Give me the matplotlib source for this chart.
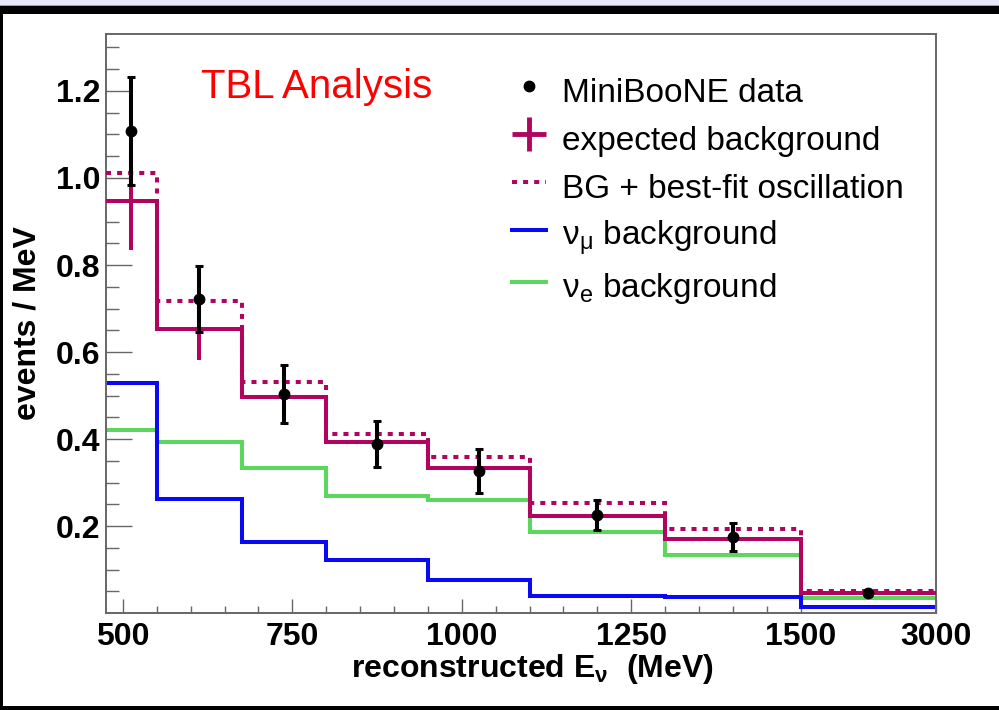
import numpy as np
import matplotlib
matplotlib.use("Agg")
import matplotlib.pyplot as plt
from matplotlib.lines import Line2D
from matplotlib.patches import Rectangle
from matplotlib.ticker import FixedLocator, FixedFormatter

plt.rcParams["font.family"] = ["Liberation Sans", "DejaVu Sans"]
plt.rcParams["mathtext.default"] = "regular"

# bin edges in MeV (last bin is squeezed on the axis)
edges = np.array([475, 550, 675, 800, 950, 1100, 1300, 1500, 3000])
numu_bg = [0.528, 0.261, 0.164, 0.123, 0.077, 0.040, 0.037, 0.013]
nue_bg = [0.421, 0.394, 0.334, 0.270, 0.259, 0.186, 0.134, 0.035]
expected_bg = [0.947, 0.654, 0.496, 0.393, 0.334, 0.224, 0.169, 0.047]
expected_err = [0.113, 0.072, 0.064, 0.045, 0.040, 0.028, 0.025, 0.006]
bg_plus_osc = [1.011, 0.718, 0.531, 0.412, 0.359, 0.253, 0.193, 0.051]
data_y = [1.108, 0.722, 0.503, 0.388, 0.327, 0.225, 0.175, 0.045]
data_err = [0.124, 0.076, 0.066, 0.053, 0.050, 0.035, 0.032, 0.006]

xticks = [500, 750, 1000, 1250, 1500, 3000]
xticklabels = ["500", "750", "1000", "1250", "1500", "3000"]
yticks = [0.2, 0.4, 0.6, 0.8, 1.0, 1.2]

centers = 0.5 * (edges[:-1] + edges[1:])

MAG = "#b0045f"
BLUE = "#0a0af2"
GREEN = "#5cd65c"
LW = 2.9
DOTS = (0, (1.25, 1.5))


def fwd(x):
    x = np.asarray(x, dtype=float)
    return np.where(x <= 1500, x, 1500 + (x - 1500) * 200.0 / 1500.0)


def inv(x):
    x = np.asarray(x, dtype=float)
    return np.where(x <= 1500, x, 1500 + (x - 1500) * 1500.0 / 200.0)


fig = plt.figure(figsize=(9.99, 7.10), dpi=100)
ax = fig.add_axes([0.1061, 0.1366, 0.831, 0.8155])
ax.set_xscale("function", functions=(fwd, inv))
ax.set_xlim(475, 3000)
ax.set_ylim(0, 1.331)

ax.stairs(nue_bg, edges, baseline=None, color=GREEN, lw=LW, zorder=2)
ax.stairs(numu_bg, edges, baseline=None, color=BLUE, lw=LW, zorder=2)
ax.stairs(expected_bg, edges, baseline=None, color=MAG, lw=LW, zorder=3)
ax.stairs(bg_plus_osc, edges, baseline=None, color=MAG, lw=LW,
          linestyle=DOTS, zorder=3)
ax.errorbar(centers, expected_bg, yerr=expected_err, fmt="none",
            ecolor=MAG, elinewidth=LW, zorder=4)
ax.errorbar(centers, data_y, yerr=data_err, fmt="o", color="black",
            ms=7.5, elinewidth=LW, capsize=3, capthick=2.2, zorder=5)

# axes styling
for sp in ax.spines.values():
    sp.set_color("#666666")
    sp.set_linewidth(1.4)
ax.xaxis.set_major_locator(FixedLocator(xticks))
ax.xaxis.set_major_formatter(FixedFormatter(xticklabels))
ax.xaxis.set_minor_locator(FixedLocator([v for v in range(550, 1500, 50)
                                         if v % 250 != 0]))
ax.yaxis.set_major_locator(FixedLocator(yticks))
ax.yaxis.set_minor_locator(FixedLocator(np.arange(0.05, 1.33, 0.05)))
ax.tick_params(axis="both", which="both", direction="in", color="#666666",
               width=1.0, top=False, right=False)
ax.tick_params(axis="y", which="major", length=18.7, pad=4.3)
ax.tick_params(axis="y", which="minor", length=9.4)
ax.tick_params(axis="x", which="major", length=10, pad=6.5)
ax.tick_params(axis="x", which="minor", length=5)
for lab in ax.get_xticklabels() + ax.get_yticklabels():
    lab.set_fontsize(23)
    lab.set_fontweight("bold")

ax.set_xlabel(r"reconstructed $E_\nu$  (MeV)", fontsize=23, fontweight="bold")
ax.xaxis.label.set_va("baseline")
ax.xaxis.set_label_coords(0.513, -0.1105)
ax.set_ylabel("events / MeV", fontsize=23, fontweight="bold")
ax.yaxis.label.set_va("center")
ax.yaxis.set_label_coords(-0.094, 0.5)

ax.text(0.1145, 0.889, "TBL Analysis", transform=ax.transAxes,
        color="#ff0000", fontsize=29, va="baseline")

handles = [
    Line2D([], [], color="black", marker="o", ms=7.5, linestyle="none"),
    Line2D([], [], color=MAG, marker="+", ms=25, mew=3.5, linestyle="none"),
    Line2D([], [], color=MAG, lw=LW, linestyle=DOTS),
    Line2D([], [], color=BLUE, lw=LW),
    Line2D([], [], color=GREEN, lw=LW),
]
labels = ["MiniBooNE data", "expected background", "BG + best-fit oscillation",
          r"$\nu_\mu$ background", r"$\nu_e$ background"]
ax.legend(handles, labels, loc="upper left", bbox_to_anchor=(0.489, 0.936),
          frameon=False, fontsize=24, handlelength=1.02, handletextpad=0.48,
          handleheight=1.45, labelspacing=0.25, borderpad=0, borderaxespad=0)

# window frame around the canvas
fig.add_artist(Rectangle((0, 1 - 5 / 710), 1, 5 / 710, transform=fig.transFigure,
                         color="#e6e6fa", lw=0))
fig.add_artist(Rectangle((0, 1 - 6 / 710), 1, 1 / 710, transform=fig.transFigure,
                         color="#9a9ab0", lw=0))
fig.add_artist(Rectangle((0, 1 - 14 / 710), 1, 8 / 710, transform=fig.transFigure,
                         color="black", lw=0))
fig.add_artist(Rectangle((0, 0), 3 / 999, 1 - 14 / 710, transform=fig.transFigure,
                         color="black", lw=0))
fig.add_artist(Rectangle((0, 0), 1, 4 / 710, transform=fig.transFigure,
                         color="black", lw=0))

fig.savefig("out.png", dpi=100)
